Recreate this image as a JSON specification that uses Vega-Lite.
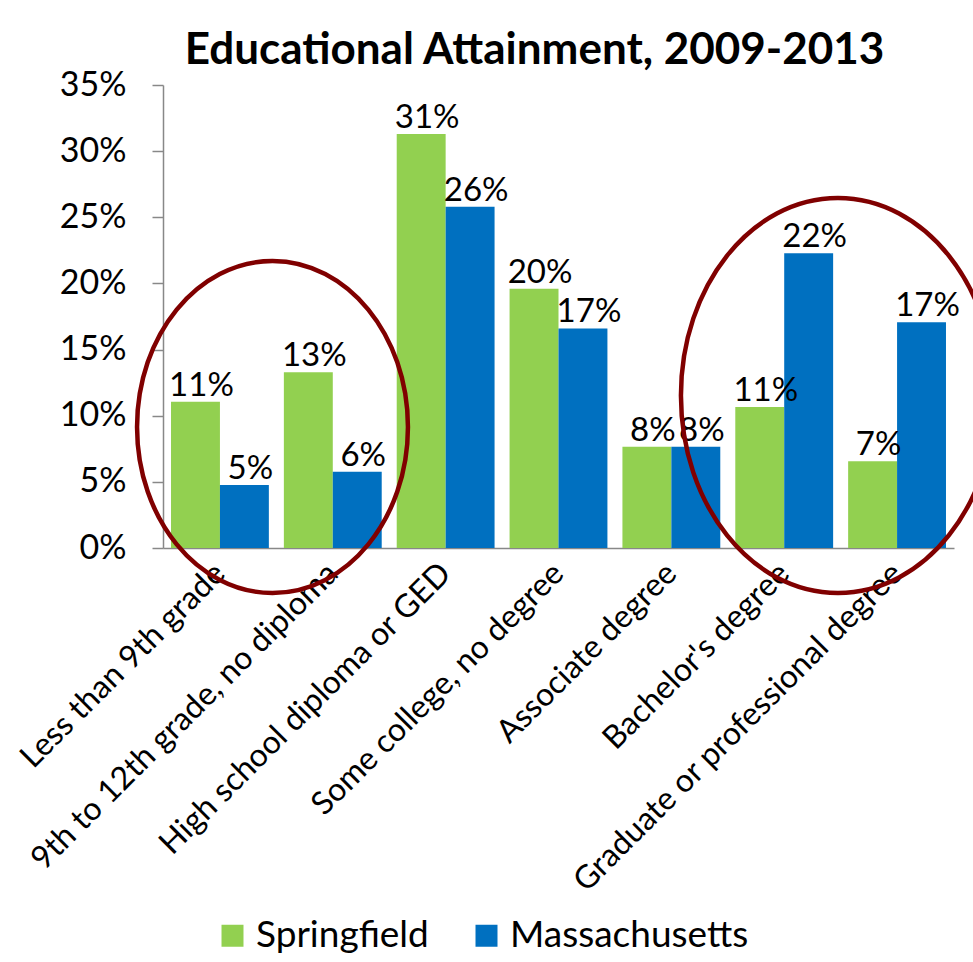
{
  "$schema": "https://vega.github.io/schema/vega-lite/v6.json",
  "width": 791,
  "height": 463,
  "autosize": {"type": "none"},
  "padding": {"left": 163, "top": 85, "right": 19, "bottom": 414},
  "background": "white",
  "config": {
    "font": "Lato",
    "view": {"stroke": null},
    "axis": {"labelFont": "Lato", "labelColor": "#000000"}
  },
  "title": {
    "text": "Educational Attainment, 2009-2013",
    "font": "Lato",
    "fontSize": 44,
    "fontWeight": "bold",
    "color": "#000000",
    "anchor": "middle",
    "dx": -24,
    "offset": -40,
    "baseline": "alphabetic"
  },
  "datasets": {
    "attainment": [
      {"level": "Less than 9th grade", "area": "Springfield", "share": 0.1106},
      {"level": "Less than 9th grade", "area": "Massachusetts", "share": 0.0476},
      {"level": "9th to 12th grade, no diploma", "area": "Springfield", "share": 0.1328},
      {"level": "9th to 12th grade, no diploma", "area": "Massachusetts", "share": 0.0577},
      {"level": "High school diploma or GED", "area": "Springfield", "share": 0.313},
      {"level": "High school diploma or GED", "area": "Massachusetts", "share": 0.258},
      {"level": "Some college, no degree", "area": "Springfield", "share": 0.196},
      {"level": "Some college, no degree", "area": "Massachusetts", "share": 0.166},
      {"level": "Associate degree", "area": "Springfield", "share": 0.0766},
      {"level": "Associate degree", "area": "Massachusetts", "share": 0.0766},
      {"level": "Bachelor's degree", "area": "Springfield", "share": 0.1066},
      {"level": "Bachelor's degree", "area": "Massachusetts", "share": 0.2228},
      {"level": "Graduate or professional degree", "area": "Springfield", "share": 0.0656},
      {"level": "Graduate or professional degree", "area": "Massachusetts", "share": 0.1706}
    ]
  },
  "layer": [
    {
      "data": {"name": "attainment"},
      "mark": {"type": "bar"},
      "encoding": {
        "x": {
          "field": "level",
          "type": "nominal",
          "sort": null,
          "scale": {"paddingInner": 0.133, "paddingOuter": 0.071},
          "axis": {
            "title": null,
            "labelAngle": -45,
            "labelAlign": "right",
            "labelBaseline": "middle",
            "labelFontSize": 32,
            "labelPadding": 20,
            "labelLimit": 0,
            "ticks": false,
            "domainColor": "#888888",
            "domainWidth": 1.5
          }
        },
        "xOffset": {
          "field": "area",
          "type": "nominal",
          "sort": ["Springfield", "Massachusetts"],
          "scale": {"paddingInner": 0, "paddingOuter": 0}
        },
        "y": {
          "field": "share",
          "type": "quantitative",
          "scale": {"domain": [0, 0.35], "nice": false},
          "axis": {
            "title": null,
            "format": ".0%",
            "values": [0, 0.05, 0.1, 0.15, 0.2, 0.25, 0.3, 0.35],
            "grid": false,
            "tickSize": 11,
            "labelPadding": 26,
            "labelFontSize": 34,
            "domainColor": "#888888",
            "tickColor": "#888888",
            "domainWidth": 1.5,
            "tickWidth": 1.5
          }
        },
        "color": {
          "field": "area",
          "type": "nominal",
          "scale": {"domain": ["Springfield", "Massachusetts"], "range": ["#92D050", "#0070C0"]},
          "legend": {
            "title": null,
            "orient": "none",
            "legendX": 51,
            "legendY": 832,
            "direction": "horizontal",
            "symbolType": "square",
            "symbolSize": 484,
            "symbolStrokeWidth": 0,
            "labelFontSize": 37,
            "labelFont": "Lato",
            "labelColor": "#000000",
            "labelLimit": 500,
            "labelOffset": 5,
            "columnPadding": 39
          }
        }
      }
    },
    {
      "data": {"name": "attainment"},
      "mark": {"type": "text", "baseline": "alphabetic", "dy": -6, "dx": 6, "fontSize": 33, "font": "Lato", "color": "#000000"},
      "encoding": {
        "x": {
          "field": "level",
          "type": "nominal",
          "sort": null,
          "scale": {"paddingInner": 0.133, "paddingOuter": 0.071},
          "axis": null
        },
        "xOffset": {
          "field": "area",
          "type": "nominal",
          "sort": ["Springfield", "Massachusetts"],
          "scale": {"paddingInner": 0, "paddingOuter": 0}
        },
        "y": {"field": "share", "type": "quantitative"},
        "text": {"field": "share", "type": "quantitative", "format": ".0%"}
      }
    },
    {
      "data": {"values": [{"ring": "lower attainment", "pos": 0.969, "share": 0.0915}]},
      "mark": {
        "type": "point",
        "shape": "M 0.816 0 C 0.816 0.5523 0.4507 1 0 1 C -0.4507 1 -0.816 0.5523 -0.816 0 C -0.816 -0.5523 -0.4507 -1 0 -1 C 0.4507 -1 0.816 -0.5523 0.816 0 Z",
        "size": 110224,
        "filled": false,
        "color": "#800000",
        "stroke": "#800000",
        "strokeWidth": 4.5,
        "opacity": 1
      },
      "encoding": {
        "x": {"field": "pos", "type": "quantitative", "scale": {"domain": [0, 7], "nice": false, "zero": false}, "axis": null},
        "y": {"field": "share", "type": "quantitative"}
      }
    },
    {
      "data": {"values": [{"ring": "higher attainment", "pos": 5.973, "share": 0.1153}]},
      "mark": {
        "type": "point",
        "shape": "M 0.795 0 C 0.795 0.5523 0.4391 1 0 1 C -0.4391 1 -0.795 0.5523 -0.795 0 C -0.795 -0.5523 -0.4391 -1 0 -1 C 0.4391 -1 0.795 -0.5523 0.795 0 Z",
        "size": 156025,
        "filled": false,
        "color": "#800000",
        "stroke": "#800000",
        "strokeWidth": 4.5,
        "opacity": 1
      },
      "encoding": {
        "x": {"field": "pos", "type": "quantitative", "scale": {"domain": [0, 7], "nice": false, "zero": false}, "axis": null},
        "y": {"field": "share", "type": "quantitative"}
      }
    }
  ],
  "resolve": {"scale": {"x": "independent"}}
}
